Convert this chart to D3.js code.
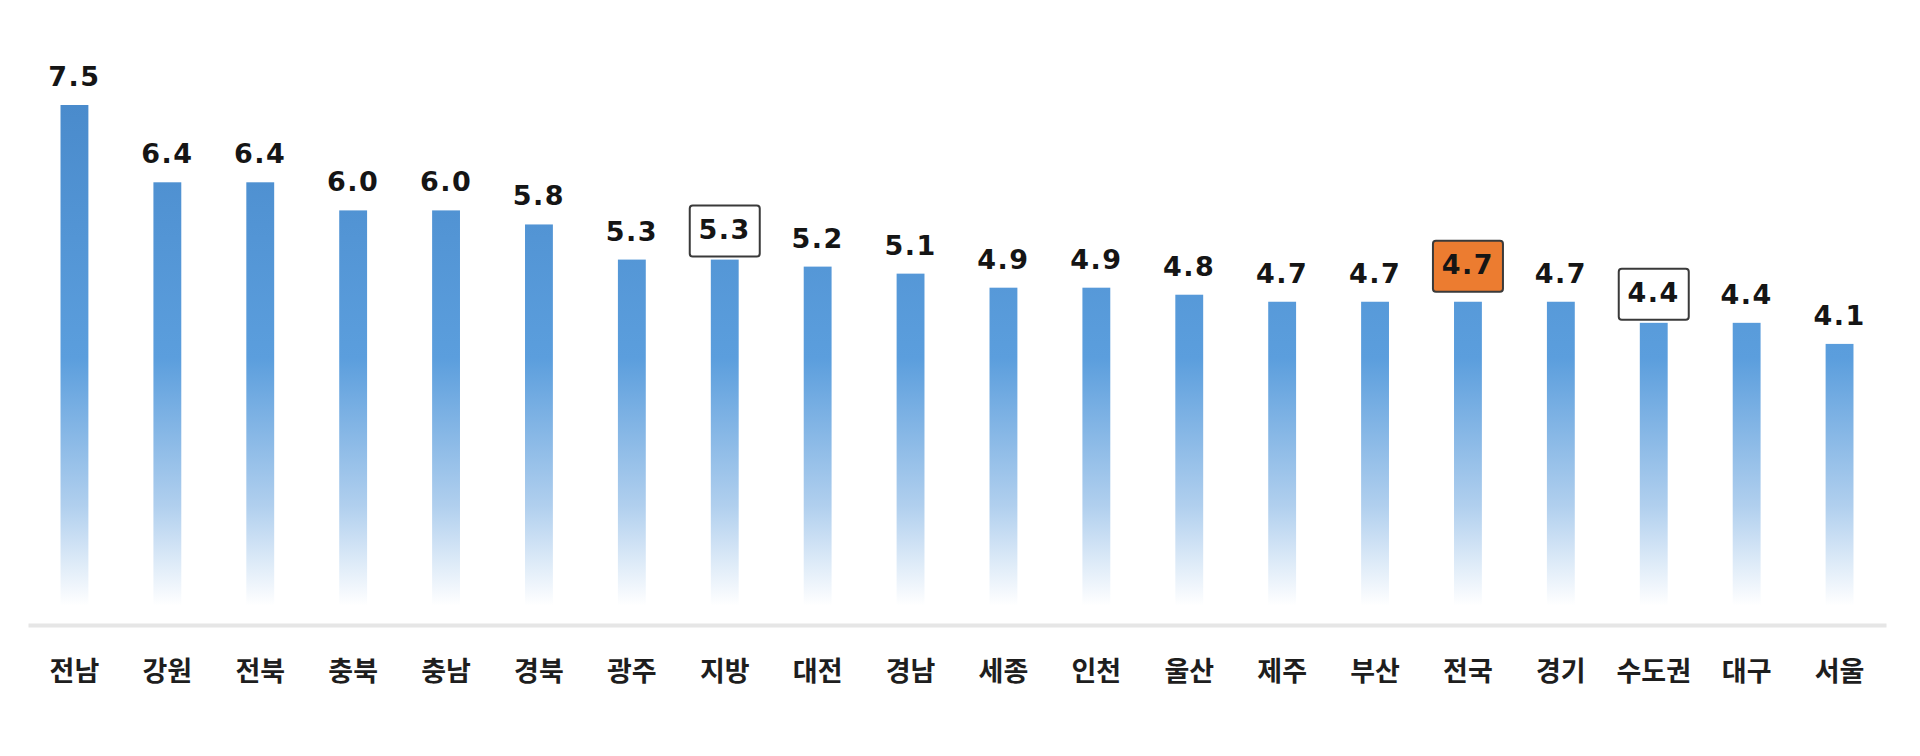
<!DOCTYPE html>
<html><head><meta charset="utf-8">
<script src="https://cdn.jsdelivr.net/npm/d3@7"></script>
<style>
html,body{margin:0;padding:0;background:#fff;}
svg{display:block;}
</style>
</head><body>
<svg id="chart" width="1920" height="756"></svg>
<script>
const categories = ["전남","강원","전북","충북","충남","경북","광주","지방","대전","경남","세종","인천","울산","제주","부산","전국","경기","수도권","대구","서울"];
const values = [7.5,6.4,6.4,6.0,6.0,5.8,5.3,5.3,5.2,5.1,4.9,4.9,4.8,4.7,4.7,4.7,4.7,4.4,4.4,4.1];
const boxedLabels = ["지방","수도권"];
const highlightLabels = ["전국"];

const W = 1920, H = 756;
const svg = d3.select("#chart");

const x = d3.scaleBand().domain(categories).range([28, 1886]).paddingInner(0.7).paddingOuter(0.35);
const y = d3.scaleLinear().domain([0, 7.5]).range([632, 105]);

const defs = svg.append("defs");
const grad = defs.append("linearGradient").attr("id","barGrad")
  .attr("gradientUnits","userSpaceOnUse").attr("x1",0).attr("x2",0).attr("y1",y(7.5)).attr("y2",y(0));
[[0,"#4a8bcc"],[0.48,"#5b9edd"],[0.76,"#b0cfee"],[0.95,"#ffffff"],[1,"#ffffff"]].forEach(([o,c])=>{
  grad.append("stop").attr("offset",o).attr("stop-color",c);
});

// bars
svg.append("g").selectAll("rect").data(values).join("rect")
  .attr("x",(d,i)=>x(categories[i]))
  .attr("y",d=>y(d))
  .attr("width",x.bandwidth())
  .attr("height",d=>y(0)-y(d))
  .attr("fill","url(#barGrad)");

// axis line
const axisG = svg.append("g").attr("transform",`translate(0,625)`);
const xAxis = d3.axisBottom(x).tickSize(0).tickPadding(0).tickSizeOuter(0);
axisG.call(xAxis);
axisG.select(".domain").attr("stroke","#e6e6e6").attr("stroke-width",4);
axisG.selectAll(".tick text")
  .attr("y",56).attr("dy",0)
  .style("font-family","'Noto Sans CJK KR', sans-serif")
  .style("font-weight","700")
  .style("font-size","27px")
  .attr("fill","#1e1e1e");

// value labels
const lab = svg.append("g");
values.forEach((v,i)=>{
  const c = categories[i];
  const cx = x(c) + x.bandwidth()/2;
  const boxed = boxedLabels.includes(c);
  const hl = highlightLabels.includes(c);
  const base = (boxed||hl) ? y(v) - 21 - (hl ? 7 : 0) : y(v) - 19;
  if (boxed || hl) {
    lab.append("rect")
      .attr("x",cx-35).attr("y",base-33).attr("width",70).attr("height",51)
      .attr("rx",3)
      .attr("fill", hl ? "#ec7c30" : "#ffffff")
      .attr("stroke","#3a3a3a").attr("stroke-width",2);
  }
  lab.append("text")
    .attr("x",cx).attr("y",base)
    .attr("text-anchor","middle")
    .style("font-family","'DejaVu Sans', sans-serif")
    .style("font-weight","700")
    .style("font-size","27px")
    .style("letter-spacing","1.5px")
    .attr("fill","#151515")
    .text(v.toFixed(1));
});
</script>
</body></html>
